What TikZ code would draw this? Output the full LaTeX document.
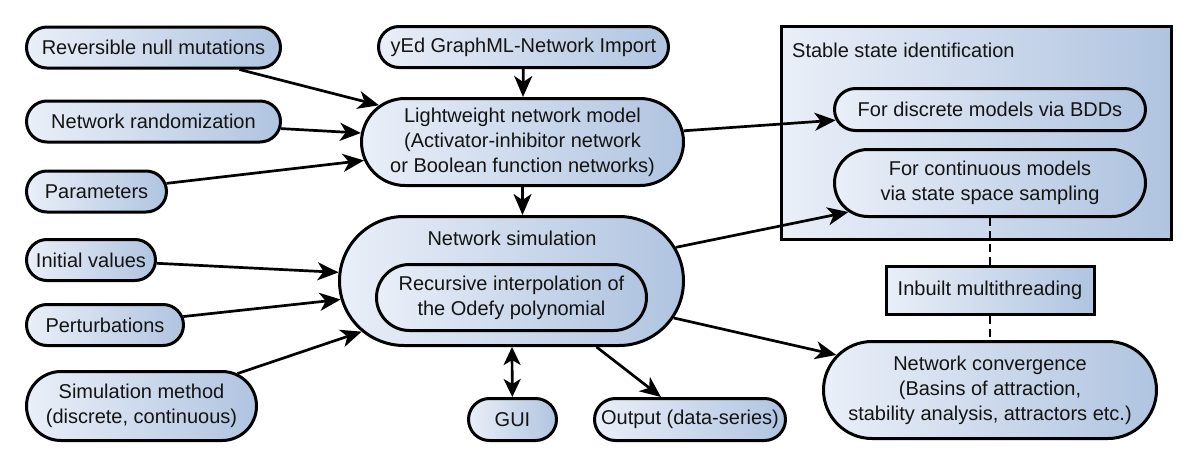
\documentclass[tikz,border=0pt]{standalone}
\usepackage{fontspec}
\setmainfont{Liberation Sans}
\usetikzlibrary{shapes.misc,arrows.meta}
\definecolor{cl}{RGB}{234,239,248}
\definecolor{cr}{RGB}{176,196,224}
\definecolor{txt}{RGB}{20,20,20}
\begin{document}
\begin{tikzpicture}[x=1pt,y=-1pt,
  pill/.style={rounded rectangle, draw=black, line width=3pt, left color=cl, right color=cr,
    inner sep=0pt, align=center, text=txt, font=\fontsize{20}{25}\selectfont},
  sqbox/.style={rectangle, draw=black, line width=3pt, left color=cl, right color=cr,
    inner sep=0pt, align=center, text=txt, font=\fontsize{20}{25}\selectfont},
  arr/.style={line width=2.7pt, -{Stealth[length=21pt,width=18pt,inset=6pt]}},
  darr/.style={line width=2.7pt, {Stealth[length=18pt,width=17pt,inset=5pt]}-{Stealth[length=18pt,width=17pt,inset=5pt]}},
  dashline/.style={line width=1.3pt, dash pattern=on 8pt off 5pt},
  lbl/.style={text=txt, font=\fontsize{20}{25}\selectfont, inner sep=0pt}
]
\useasboundingbox (0,0) rectangle (1200,466);

% stable state box
\node[sqbox, minimum width=390, minimum height=213] (ssi) at (976.5,133) {};
\node[lbl, anchor=west] (ssit) at (792,50) {Stable state identification};
\node[pill, minimum width=311, minimum height=42] (bdd) at (990,109.5) {For discrete models via BDDs};
\node[pill, minimum width=311, minimum height=67] (cont) at (990,183) {For continuous models\\via state space sampling};

% left inputs
\node[pill, minimum width=254, minimum height=41] (rnm) at (153.5,47.5) {Reversible null mutations};
\node[pill, minimum width=254, minimum height=41] (nr) at (153.5,121.5) {Network randomization};
\node[pill, minimum width=140, minimum height=41] (par) at (96.5,191.5) {Parameters};
\node[pill, minimum width=129, minimum height=41] (ini) at (91,260) {Initial values};
\node[pill, minimum width=157, minimum height=41] (per) at (105,325) {Perturbations};
\node[pill, minimum width=230, minimum height=69] (sm) at (141.5,406) {Simulation method\\(discrete, continuous)};

% centre
\node[pill, minimum width=290, minimum height=41] (yed) at (523.5,47) {yEd GraphML-Network Import};
\node[pill, minimum width=322, minimum height=87] (lnm) at (522.5,142) {Lightweight network model\\(Activator-inhibitor network\\or Boolean function networks)};
\node[pill, minimum width=344, minimum height=129] (sim) at (511.5,281) {};
\node[lbl] (simt) at (512,238) {Network simulation};
\node[pill, minimum width=270, minimum height=66] (rec) at (511.5,297.5) {Recursive interpolation of\\the Odefy polynomial};
\node[pill, minimum width=88, minimum height=42] (gui) at (512.5,419.5) {GUI};
\node[pill, minimum width=191, minimum height=42] (out) at (690,419.5) {Output (data-series)};

% right
\node[sqbox, minimum width=208, minimum height=48] (mt) at (990,290) {Inbuilt multithreading};
\node[pill, minimum width=333, minimum height=97] (conv) at (990,390) {Network convergence\\(Basins of attraction,\\stability analysis, attractors etc.)};

% connectors
\draw[arr] (rnm) -- (lnm);
\draw[arr] (nr) -- (lnm);
\draw[arr] (par) -- (lnm);
\draw[arr] (yed) -- (lnm);
\draw[arr] (lnm.south) -- (lnm.south |- sim.north);
\draw[arr] (lnm) -- (bdd);
\draw[arr] (sim) -- (cont);
\draw[arr] (ini) -- (sim);
\draw[arr] (per) -- (sim);
\draw[arr] (sm) -- (sim);
\draw[darr] (sim) -- (gui);
\draw[arr] (sim) -- (out);
\draw[arr] (sim) -- (conv);
\draw[dashline] (cont.south) -- (mt.north);
\draw[dashline] (mt.south) -- (conv.north);
\end{tikzpicture}
\end{document}
